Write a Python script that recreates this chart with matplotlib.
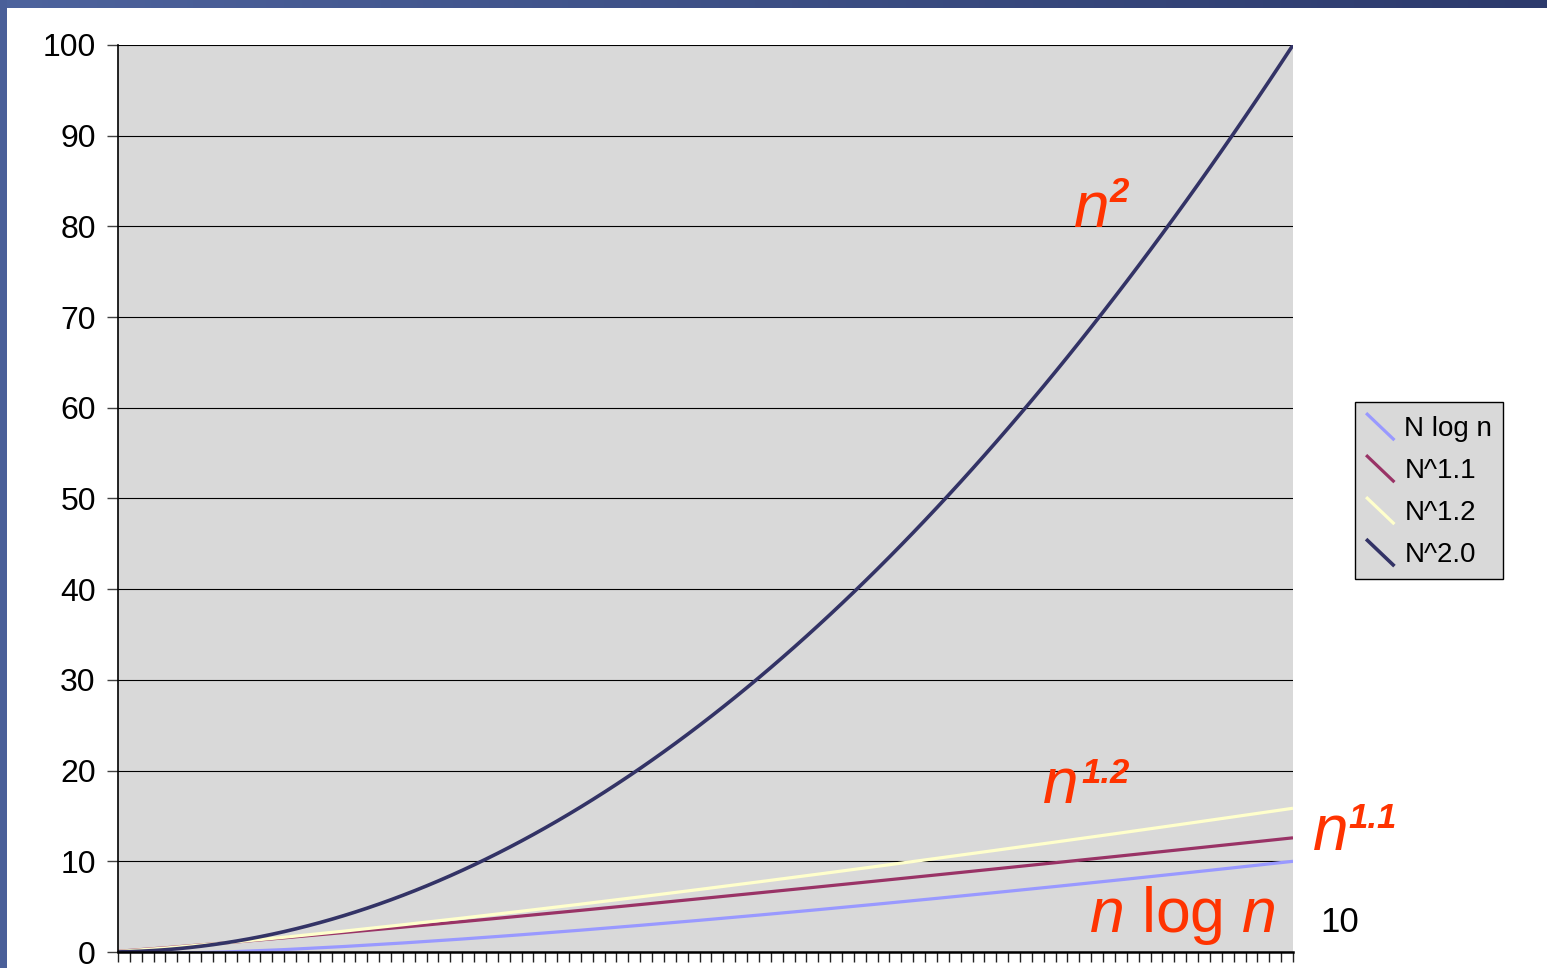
import matplotlib
matplotlib.use("Agg")
import numpy as np
import matplotlib.pyplot as plt
from matplotlib.lines import Line2D
from matplotlib.legend_handler import HandlerLine2D
from matplotlib.patches import Rectangle
from matplotlib.colors import LinearSegmentedColormap

plt.rcParams["font.family"] = ["Liberation Sans", "DejaVu Sans"]
plt.rcParams["mathtext.fontset"] = "custom"
plt.rcParams["mathtext.it"] = "Liberation Sans:italic"
plt.rcParams["mathtext.rm"] = "Liberation Sans"

# ---- data ---------------------------------------------------------------
# near-straight series, sampled every 0.5
n_coarse = [0.1, 0.5, 1.0, 1.5, 2.0, 2.5, 3.0, 3.5, 4.0, 4.5, 5.0,
            5.5, 6.0, 6.5, 7.0, 7.5, 8.0, 8.5, 9.0, 9.5, 10.0]
n_log_n = [-0.100, -0.151, 0.000, 0.264, 0.602, 0.995, 1.431, 1.904, 2.408,
           2.940, 3.495, 4.072, 4.669, 5.284, 5.916, 6.563, 7.225, 7.900,
           8.588, 9.288, 10.000]
n_pow_1_1 = [0.079, 0.467, 1.000, 1.562, 2.144, 2.740, 3.348, 3.967, 4.595,
             5.230, 5.873, 6.523, 7.177, 7.838, 8.504, 9.174, 9.849, 10.528,
             11.211, 11.898, 12.589]
n_pow_1_2 = [0.063, 0.435, 1.000, 1.627, 2.297, 3.003, 3.737, 4.497, 5.278,
             6.079, 6.899, 7.735, 8.586, 9.451, 10.330, 11.222, 12.126,
             13.040, 13.966, 14.903, 15.849]
# category axis: 0.1 .. 10.0
n_fine = [round(0.1 * i, 1) for i in range(1, 101)]
n_pow_2_0 = [
    0.01, 0.04, 0.09, 0.16, 0.25, 0.36, 0.49, 0.64, 0.81, 1.00,
    1.21, 1.44, 1.69, 1.96, 2.25, 2.56, 2.89, 3.24, 3.61, 4.00,
    4.41, 4.84, 5.29, 5.76, 6.25, 6.76, 7.29, 7.84, 8.41, 9.00,
    9.61, 10.24, 10.89, 11.56, 12.25, 12.96, 13.69, 14.44, 15.21, 16.00,
    16.81, 17.64, 18.49, 19.36, 20.25, 21.16, 22.09, 23.04, 24.01, 25.00,
    26.01, 27.04, 28.09, 29.16, 30.25, 31.36, 32.49, 33.64, 34.81, 36.00,
    37.21, 38.44, 39.69, 40.96, 42.25, 43.56, 44.89, 46.24, 47.61, 49.00,
    50.41, 51.84, 53.29, 54.76, 56.25, 57.76, 59.29, 60.84, 62.41, 64.00,
    65.61, 67.24, 68.89, 70.56, 72.25, 73.96, 75.69, 77.44, 79.21, 81.00,
    82.81, 84.64, 86.49, 88.36, 90.25, 92.16, 94.09, 96.04, 98.01, 100.00,
]
series_labels = ["N log n", "N^1.1", "N^1.2", "N^2.0"]
y_ticks = [0, 10, 20, 30, 40, 50, 60, 70, 80, 90, 100]

# ---- figure -------------------------------------------------------------
W, H = 1547, 968
fig = plt.figure(figsize=(W / 100, H / 100), dpi=100)
fig.patch.set_facecolor("white")

# slide frame: gradient band on top, strip on the left
band = fig.add_axes([0, 1 - 8 / H, 1, 8 / H])
grad = np.linspace(0, 1, 256)[None, :]
band_cmap = LinearSegmentedColormap.from_list("band", ["#4d639d", "#2c3a6c"])
band.imshow(grad, aspect="auto", cmap=band_cmap)
band.axis("off")
fig.patches.append(Rectangle((0, 0), 7 / W, 1, transform=fig.transFigure,
                             facecolor="#4a5f99", edgecolor="none"))

ax = fig.add_axes([118 / W, 16 / H, 1175 / W, 907 / H])
ax.set_facecolor("#d9d9d9")

colors = ["#9999ff", "#993366", "#ffffcc", "#333366"]
widths = [2.3, 2.3, 2.3, 2.6]
xs = [n_coarse, n_coarse, n_coarse, n_fine]
ys_all = [n_log_n, n_pow_1_1, n_pow_1_2, n_pow_2_0]
for x, ys, lab, c, lw in zip(xs, ys_all, series_labels, colors, widths):
    ax.plot(x, ys, color=c, lw=lw, label=lab, solid_capstyle="butt")

ax.set_xlim(0.1, 10.0)
ax.set_ylim(0, 100)
ax.set_yticks(y_ticks)
ax.set_xticks(n_fine)
ax.set_xticklabels([])
ax.tick_params(axis="x", direction="out", length=7.5, width=1.0, color="#222222")
ax.tick_params(axis="y", direction="out", length=8, width=1.0, color="#404040",
               labelsize=23, pad=8)
ax.yaxis.grid(True, color="black", lw=0.8)
ax.set_axisbelow(True)
for s in ["top", "right"]:
    ax.spines[s].set_visible(False)
ax.spines["left"].set_color("black")
ax.spines["left"].set_linewidth(1.2)
ax.spines["bottom"].set_color("black")
ax.spines["bottom"].set_linewidth(1.8)


class DiagonalHandler(HandlerLine2D):
    def create_artists(self, legend, orig_handle, xdescent, ydescent,
                       width, height, fontsize, trans):
        x0 = -xdescent
        y0 = -ydescent
        line = Line2D([x0, x0 + width], [y0 + height, y0])
        self.update_prop(line, orig_handle, legend)
        line.set_transform(trans)
        return [line]


handles, labels = ax.get_legend_handles_labels()
leg = fig.legend(handles, labels, loc="upper left",
                 bbox_to_anchor=(1355 / W, 1 - 402 / H),
                 bbox_transform=fig.transFigure, fontsize=20,
                 handler_map={Line2D: DiagonalHandler()},
                 handlelength=1.02, handleheight=1.12, handletextpad=0.36,
                 labelspacing=0.47, borderpad=0.4, borderaxespad=0,
                 fancybox=False, framealpha=1, facecolor="#d9d9d9",
                 edgecolor="black")
leg.get_frame().set_linewidth(1.0)

# ---- curve labels -------------------------------------------------------
red = "#ff3300"


def ftext(x, y, s, **kw):
    return fig.text(x / W, 1 - y / H, s, va="baseline", ha="left", **kw)


ftext(1074, 227, "n", fontsize=46, style="italic", color=red)
ftext(1110, 202, "2", fontsize=25, style="italic", weight="bold", color=red)
ftext(1043, 803, "n", fontsize=46, style="italic", color=red)
ftext(1081, 783, "1.2", fontsize=25, style="italic", weight="bold", color=red)
ftext(1313, 850, "n", fontsize=46, style="italic", color=red)
ftext(1348, 828, "1.1", fontsize=25, style="italic", weight="bold", color=red)
ftext(1089, 932, "$n$ log $n$", fontsize=45, color=red)
ftext(1320, 932, "10", fontsize=25, color="black")

fig.savefig("out.png", dpi=100)
